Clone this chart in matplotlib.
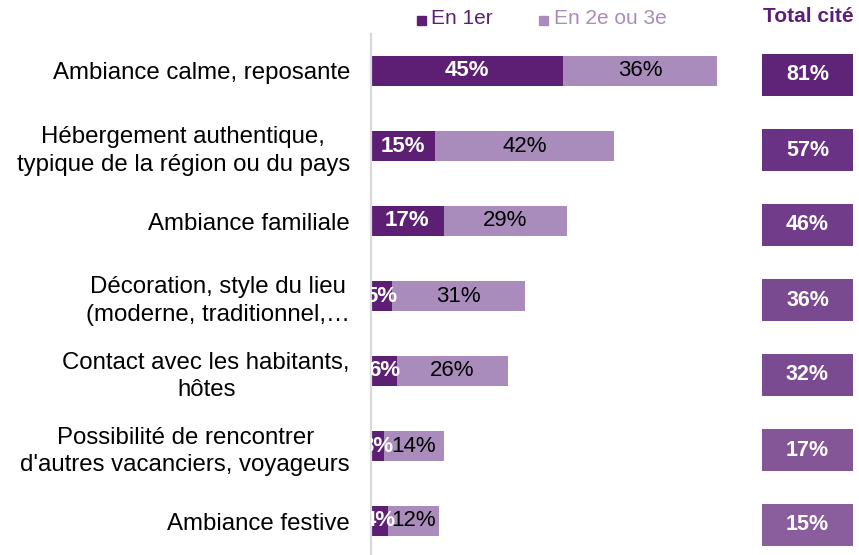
import matplotlib
matplotlib.use("Agg")
import matplotlib.pyplot as plt
from matplotlib.patches import Rectangle
from matplotlib.transforms import offset_copy

plt.rcParams['font.family'] = ['Liberation Sans', 'DejaVu Sans']

categories = [
    "Ambiance calme, reposante",
    "Hébergement authentique,\ntypique de la région ou du pays",
    "Ambiance familiale",
    "Décoration, style du lieu\n(moderne, traditionnel,…",
    "Contact avec les habitants,\nhôtes",
    "Possibilité de rencontrer\nd'autres vacanciers, voyageurs",
    "Ambiance festive",
]
first = [45, 15, 17, 5, 6, 3, 4]
second = [36, 42, 29, 31, 26, 14, 12]
totals = [81, 57, 46, 36, 32, 17, 15]
series_names = ["En 1er", "En 2e ou 3e"]
total_title = "Total cité"

dark = "#5C1F74"
light = "#AA8CBC"
box_colors = ["#5E2478", "#6A3285", "#713C89", "#7A4A90", "#7B4B91", "#845597", "#8A5E9D"]

W, H = 859, 555
fig = plt.figure(figsize=(W / 100, H / 100), dpi=100)

# main axes
ax_left, ax_right = 371, 740
top_px, bot_px = 33.5, 555
ax = fig.add_axes([ax_left / W, 1 - bot_px / H, (ax_right - ax_left) / W, (bot_px - top_px) / H])
px_per_unit = 4.27
ax.set_xlim(0, (ax_right - ax_left) / px_per_unit)
n = len(categories)
units = (bot_px - top_px) / 75.0
ax.set_ylim(-0.5 + units, -0.5)

y = list(range(n))
ax.barh(y, first, height=0.39, color=dark)
ax.barh(y, second, left=first, height=0.39, color=light)

for i in range(n):
    ax.text(first[i] / 2, i, f"{first[i]}%", ha="center", va="center",
            color="white", fontsize=16, fontweight="bold", clip_on=True)
    ax.text(first[i] + second[i] / 2, i, f"{second[i]}%", ha="center", va="center",
            color="black", fontsize=16, clip_on=True)

for s in ["top", "right", "bottom"]:
    ax.spines[s].set_visible(False)
ax.spines["left"].set_color("#D9D9D9")
ax.spines["left"].set_linewidth(1.6)
ax.set_xticks([])
ax.set_yticks(y)
ax.set_yticklabels(categories, fontsize=17.3, ha="center", multialignment="center",
                   linespacing=1.3)
ax.tick_params(axis="y", length=0, pad=0)
fig.canvas.draw()
renderer = fig.canvas.get_renderer()
for lab in ax.get_yticklabels():
    bb = lab.get_window_extent(renderer)
    w = bb.width
    lab.set_ha("center")
    lab.set_transform(offset_copy(ax.get_yaxis_transform(), fig=fig,
                                  x=-(371 - 350) - w / 2, y=0, units="dots"))

# totals axes
bx_left, bx_right = 762, 853
ax2 = fig.add_axes([bx_left / W, 1 - bot_px / H, (bx_right - bx_left) / W, (bot_px - top_px) / H])
ax2.set_xlim(0, 1)
ax2.set_ylim(-0.5 + units, -0.5)
yb = [i + 4 / 75 for i in y]
ax2.barh(yb, [1] * n, height=42 / 75, color=box_colors)
for i in range(n):
    ax2.text(0.5, yb[i], f"{totals[i]}%", ha="center", va="center",
             color="white", fontsize=15.5, fontweight="bold")
ax2.axis("off")

# legend
sq = 9
fig.patches.append(Rectangle((417 / W, 1 - 25 / H), sq / W, sq / H, transform=fig.transFigure,
                             color=dark, figure=fig))
fig.text(431 / W, 1 - 19 / H, series_names[0], color=dark, fontsize=15, ha="left", va="center")
fig.patches.append(Rectangle((539 / W, 1 - 25 / H), sq / W, sq / H, transform=fig.transFigure,
                             color=light, figure=fig))
fig.text(554 / W, 1 - 19 / H, series_names[1], color=light, fontsize=15, ha="left", va="center")
fig.text(808 / W, 1 - 17 / H, total_title, color=dark, fontsize=15, fontweight="bold",
         ha="center", va="center")

fig.savefig("out.png", dpi=100)
